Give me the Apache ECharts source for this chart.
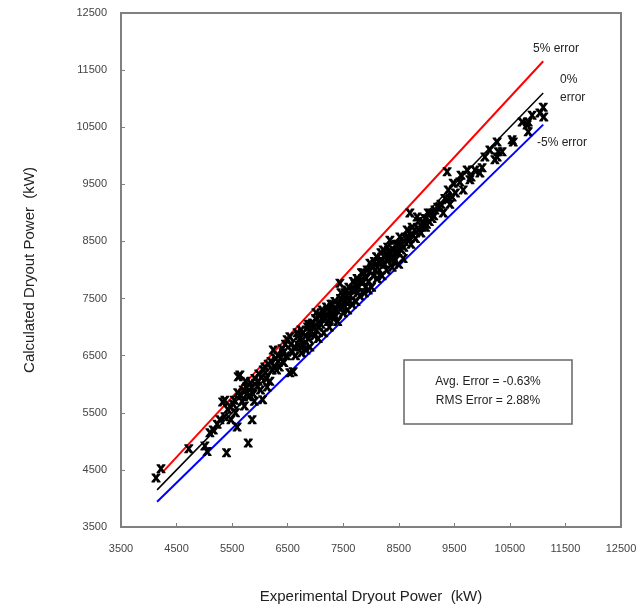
<!DOCTYPE html>
<html>
<head>
<meta charset="utf-8">
<script src="https://cdn.jsdelivr.net/npm/echarts@6/dist/echarts.min.js"></script>
<style>html,body{margin:0;padding:0;background:#fff;}#chart{width:644px;height:613px;}</style>
</head>
<body>
<div id="chart"></div>
<script>
const axisTicks = [3500, 4500, 5500, 6500, 7500, 8500, 9500, 10500, 11500, 12500];
const xName = 'Experimental Dryout Power  (kW)';
const yName = 'Calculated Dryout Power  (kW)';
const line5 = [[4250, 4462], [11100, 11655]];
const line0 = [[4150, 4150], [11100, 11100]];
const lineM5 = [[4150, 3943], [11100, 10545]];
const labels = ['5% error', '0%\nerror', '-5% error'];
const statsText = ['Avg. Error = -0.63%', 'RMS Error = 2.88%'];
const points = [
[4130,4360],[4220,4520],[4720,4870],[5010,4920],[5050,4820],[5100,5150],[5160,5200],[5230,5300],[5280,5380],[5330,5690],[5370,5720],[5370,5430],[5400,4800],[5420,5560],[5470,5600],[5480,5380],
[5520,5650],[5560,5500],[5590,5250],[5610,6130],[5640,6160],[5660,5800],[5700,5900],[5720,5620],[5760,5950],[5790,4970],[5800,5780],[5830,6020],[5860,5380],[5880,5830],[5910,6100],[5950,5960],[5980,6180],[6010,5900],[6050,5730],[6060,6250],[6090,6300],[6110,6100],[6150,6350],[6180,6050],[6200,6400],[6240,6600],[6260,6300],[6300,6250],[6330,6500],[6370,6450],[6400,6620],[6430,6380],[6460,6700],[6490,6780],[6540,6830],[6540,6200],[6580,6560],[6600,6220],[6620,6650],[6670,6900],
[5540,5720],[5600,5850],[5680,5700],[5740,6050],[5780,5850],[5850,5950],[5900,5700],[5970,6050],[6030,6120],[6100,6200],[6130,5950],[6220,6250],[6280,6450],[6350,6300],[6420,6550],[6480,6500],[6560,6700],[6640,6500],
[6700,6680],[6720,6800],[6750,6550],[6780,6900],[6800,6700],[6830,6600],[6860,7000],[6880,6800],[6900,6650],[6930,7050],[6950,7070],[6980,6850],[7000,7150],[7020,6950],[7050,6800],[7080,7200],[7100,7050],[7120,7300],[7150,6900],[7170,7150],[7200,7350],[7230,7100],[7250,7000],[7280,7400],[7300,7250],[7330,7150],[7350,7450],[7380,7300],[7400,7100],[7440,7770],[7450,7500],[7480,7350],[7500,7250],[7530,7600],[7550,7450],[7580,7300],[7600,7700],[7630,7550],[7660,7400],[7680,7800],[7700,7650],[7730,7450],[7750,7850],[7780,7700],[7800,7550],[7830,7950],[7850,7800],[7880,7600],[7900,7700],[7930,8000],[7960,7800],[7980,8120],
[6690,6850],[6740,6950],[6770,6700],[6820,6850],[6870,7050],[6910,6900],[6970,7000],[7010,7250],[7060,7000],[7110,7150],[7160,7250],[7210,7200],[7260,7300],[7310,7400],[7360,7200],[7410,7400],[7460,7600],[7510,7450],[7560,7650],[7610,7450],[7650,7650],[7710,7750],[7760,7600],[7810,7800],[7860,7950],[7910,7850],[7950,7650],
[8010,7700],[8040,7900],[8060,8150],[8100,8230],[8110,7850],[8150,8000],[8180,8300],[8200,7900],[8220,8350],[8250,8100],[8280,8000],[8300,8400],[8340,8520],[8350,8200],[8380,8050],[8400,8350],[8420,8150],[8450,8450],[8480,8300],[8500,8100],[8520,8580],[8550,8350],[8580,8200],[8600,8500],[8650,8700],[8700,9000],[8720,8450],[8760,8600],[8800,8550],[8830,8930],[8860,8700],[8900,8650],[8940,8820],[8980,8750],[9030,9000],[9050,8850],
[8020,8050],[8080,8000],[8130,8150],[8190,8150],[8240,8250],[8290,8200],[8330,8300],[8390,8250],[8440,8300],[8490,8450],[8540,8450],[8590,8400],[8630,8550],[8680,8550],[8740,8750],[8790,8700],[8850,8850],[8920,8750],[8970,8900],[9000,8800],[9080,9000],[9130,8950],[9200,9100],[9260,9150],[9330,9250],
[9100,8900],[9150,9050],[9240,9100],[9300,9000],[9370,9230],[9370,9720],[9390,9400],[9420,9150],[9460,9280],[9480,9520],[9520,9350],[9600,9540],[9620,9660],[9660,9400],[9730,9750],[9780,9580],[9800,9630],[9870,9750],[9960,9700],[10000,9790],[10050,9980],[10140,10100],[10230,9930],[10270,10240],[10270,9980],[10290,10070],[10360,10070],[10540,10280],[10560,10240],[10720,10590],[10810,10540],[10830,10420],[10830,10590],[10900,10710],[11040,10750],[11100,10850],[11110,10680]
];

const chart = echarts.init(document.getElementById('chart'));
const xMark = 'path://M0,0 L3.6,0 L5,2.6 L6.4,0 L10,0 L10,1.2 L6.8,5 L10,8.8 L10,10 L6.4,10 L5,7.4 L3.6,10 L0,10 L0,8.8 L3.2,5 L0,1.2 Z';
const font = 'Liberation Sans, Arial, sans-serif';
const axisCommon = {
  type: 'value', min: axisTicks[0], max: axisTicks[axisTicks.length - 1], interval: 1000,
  splitLine: { show: false },
  axisLine: { show: true, lineStyle: { color: '#808080', width: 2 } },
  axisTick: { show: true, inside: true, length: 4, lineStyle: { color: '#808080', width: 1 } },
  nameLocation: 'middle',
  nameTextStyle: { fontFamily: font, fontSize: 15, color: '#222' }
};
const fmt = v => String(v);
chart.setOption({
  animation: false,
  backgroundColor: '#fff',
  grid: { left: 121, right: 23, top: 13, bottom: 86, show: true, borderColor: '#808080', borderWidth: 2 },
  xAxis: Object.assign({}, axisCommon, {
    name: xName, nameGap: 62,
    axisLabel: { fontFamily: font, fontSize: 11, color: '#444', margin: 16, formatter: fmt }
  }),
  yAxis: Object.assign({}, axisCommon, {
    name: yName, nameGap: 84,
    axisLabel: { fontFamily: font, fontSize: 11, color: '#444', margin: 14, formatter: fmt }
  }),
  series: [
    { type: 'line', data: line5, symbol: 'none', lineStyle: { color: '#ff0000', width: 2 }, z: 2 },
    { type: 'line', data: line0, symbol: 'none', lineStyle: { color: '#000', width: 1.5 }, z: 2 },
    { type: 'line', data: lineM5, symbol: 'none', lineStyle: { color: '#0000ff', width: 2 }, z: 2 },
    { type: 'scatter', data: points, symbol: xMark, symbolSize: 9, itemStyle: { color: '#000', opacity: 1 }, z: 3 }
  ],
  graphic: [
    { type: 'text', left: 533, top: 43, style: { text: labels[0], font: '12px ' + font, fill: '#222' } },
    { type: 'text', left: 560, top: 71, style: { text: labels[1], font: '12px ' + font, fill: '#222', align: 'center', lineHeight: 18 } },
    { type: 'text', left: 537, top: 137, style: { text: labels[2], font: '12px ' + font, fill: '#222' } },
    { type: 'rect', shape: { x: 404, y: 360, width: 168, height: 64 }, style: { fill: '#fff', stroke: '#666', lineWidth: 1.5 } },
    { type: 'text', x: 488, y: 382, style: { text: statsText[0], font: '12px ' + font, fill: '#222', align: 'center', verticalAlign: 'middle' } },
    { type: 'text', x: 488, y: 401, style: { text: statsText[1], font: '12px ' + font, fill: '#222', align: 'center', verticalAlign: 'middle' } }
  ]
});
</script>
</body>
</html>
